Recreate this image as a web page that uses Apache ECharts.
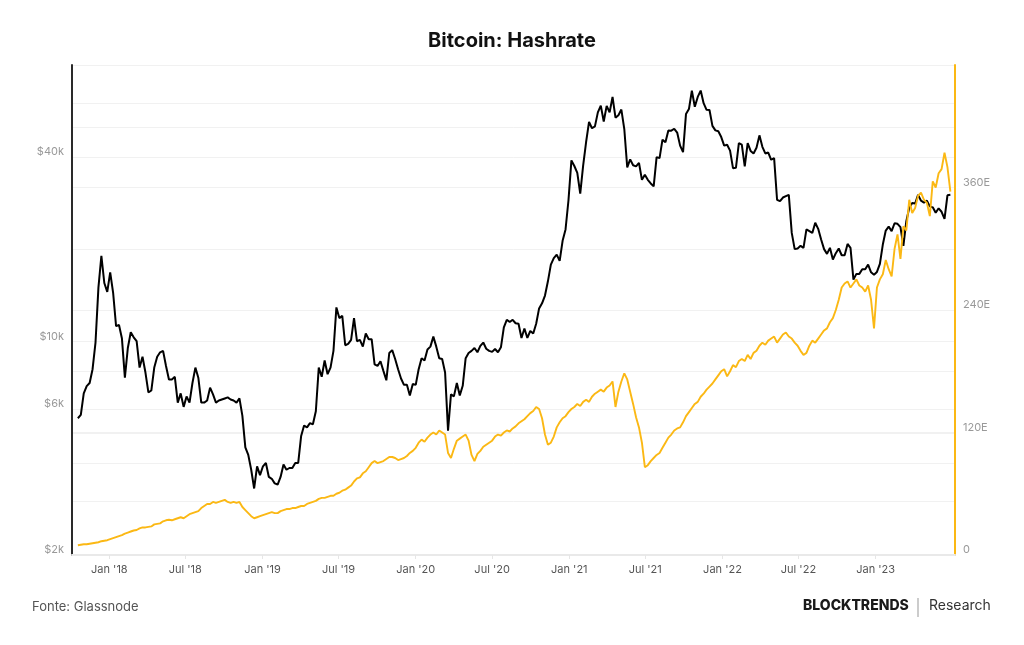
<!DOCTYPE html>
<html><head><meta charset="utf-8">
<script src="https://cdn.jsdelivr.net/npm/echarts@6/dist/echarts.min.js"></script>
<style>html,body{margin:0;padding:0;background:#fff}#c{width:1024px;height:645px}</style>
</head><body><div id="c"></div>
<script>
// weekly samples starting 2017-10-18
const startDate = [2017, 9, 18];
const stepDays = 7;

const price = [
  5600,5740,6750,7130,7300,8100,9900,15000,19000,15500,14500,
  16800,14400,11200,11300,10200,7600,9500,10700,10300,10000,8200,8900,7900,6800,6900,8200,8900,9200,9300,8300,7500,7500,7650,6300,6750,6100,6600,6300,7300,8200,7600,6300,6300,6400,7050,6700,6300,6400,6450,6500,6550,6450,6400,6300,6500,5700,4500,4250,3800,3300,3900,3650,
  3900,4000,3600,3550,3430,3400,3600,3950,3800,3850,3850,4000,4000,4900,5300,5230,5400,5350,5900,8200,7650,8650,7800,8200,9300,12900,11900,12100,9700,9800,10100,11900,10000,10100,9600,10600,10150,10150,8400,8300,8600,8000,7450,9150,9350,8750,8100,7550,7200,7200,6650,7250,
  7200,8100,8800,8650,9400,9600,10350,9600,8800,8750,7900,5100,6700,6600,7300,6650,7150,8800,9150,9300,9500,9200,9650,9900,9450,9300,9230,9430,9200,9550,11100,11750,11550,11750,11450,11400,10250,11000,10250,10800,10600,11400,12800,13300,14100,15700,17800,18700,19200,18300,21300,23200,28900,
  39000,37400,35500,30400,37600,44800,52100,49700,50400,56000,58900,52300,58800,56000,62900,53800,54800,57200,49400,37000,39300,37600,37300,38300,33700,35000,33700,32800,32100,40000,39700,45600,44700,48900,48800,49500,48100,43600,41500,55300,57400,65900,58400,62900,66000,60000,57100,57000,50600,48900,48600,46500,
  43600,43900,42000,36800,36900,44400,43900,37300,44400,41900,41100,42900,47100,43200,41100,41400,39200,39700,29000,28700,29500,29800,30100,22600,20000,20100,20500,20200,23200,22900,22600,24400,23300,21500,20000,19300,20200,18500,19400,20100,19100,19100,20800,20200,15900,16600,16600,17200,17200,17800,16800,16500,
  16850,17900,20700,23000,23700,22900,24300,24200,23600,20500,24700,27300,28300,28200,30100,28800,28400,28800,27600,27400,26300,27200,26500,25100,30000,30100
];

const hashrate = [
  9.5,10,10.5,10.5,11,11.5,12,12.5,13.5,14,14.5,
  15.5,16.5,17.5,18.5,19.5,21,22,23,24,24.5,26,27,27,27.5,28,30,30.5,31,33,34,34.5,34,35,36,37,36,38,40,41,42,43,46,48,50,50,52,51,52,53,54,52,51,52,51,52,47,44,41,38,36,37,38,
  39,40,41,42,41,41,43,44,45,45,46,46,47,48,48,50,51,52,53,55,56,56,57,58,58,60,61,63,64,66,68,72,75,76,80,82,86,90,92,90,91,92,94,96,96,95,93,94,95,97,100,102,
  105,110,113,111,115,118,120,118,122,120,118,100,95,104,112,114,116,118,112,98,92,99,102,106,108,110,112,116,118,117,120,122,121,124,126,129,131,133,136,139,141,145,143,134,118,108,110,116,125,130,134,136,140,
  143,145,148,146,150,152,150,155,158,160,162,160,164,166,170,145,160,170,178,172,160,148,135,125,110,86,88,92,95,98,100,105,110,115,118,122,124,125,130,136,140,144,148,150,155,158,162,165,168,172,176,180,
  182,175,180,186,184,190,192,190,196,192,198,200,205,208,206,210,212,214,208,212,216,218,214,212,208,205,200,196,198,205,210,208,212,216,220,222,228,232,240,250,262,266,268,262,266,270,264,262,258,264,250,222,
  262,270,275,289,280,273,300,314,290,322,318,348,335,340,352,355,348,345,332,366,360,374,378,394,380,356
];

const xTickDates = ['2018-01-01','2018-07-01','2019-01-01','2019-07-01','2020-01-01','2020-07-01','2021-01-01','2021-07-01','2022-01-01','2022-07-01','2023-01-01'];
const xTickLabels = ["Jan '18","Jul '18","Jan '19","Jul '19","Jan '20","Jul '20","Jan '21","Jul '21","Jan '22","Jul '22","Jan '23"];
const priceLabelValues = [2000, 6000, 10000, 40000];
const priceGridValues = [2000, 3000, 4000, 5000, 6000, 8000, 10000, 20000, 40000, 50000, 60000, 80000];
const priceLabels = ['$2k', '$6k', '$10k', '$40k'];
const hashTickLabels = ['0', '120E', '240E', '360E', ''];

const DAY = 86400000;
const t0 = Date.UTC(startDate[0], startDate[1], startDate[2]);
const dates = price.map((_, i) => t0 + i * stepDays * DAY);
const toTs = s => { const p = s.split('-').map(Number); return Date.UTC(p[0], p[1] - 1, p[2]); };
const xTicks = xTickDates.map(toTs);

const chart = echarts.init(document.getElementById('c'), null, { renderer: 'canvas' });
const FONT = 'Inter, "Noto Sans", sans-serif';
chart.setOption({
  animation: false,
  backgroundColor: '#ffffff',
  title: {
    text: 'Bitcoin: Hashrate', left: 'center', top: 26,
    textStyle: { fontFamily: FONT, fontWeight: 700, fontSize: 20, color: '#111' }
  },
  grid: { left: 72, right: 69, top: 65, bottom: 90, containLabel: false },
  xAxis: {
    type: 'value', scale: true,
    min: Date.UTC(2017, 9, 4), max: Date.UTC(2023, 6, 9),
    axisLine: { show: true, onZero: false, lineStyle: { color: '#e9e9e9', width: 2 } },
    axisTick: { show: true, customValues: xTicks, length: 4, lineStyle: { color: '#e6e6e6' } },
    axisLabel: {
      customValues: xTicks, color: '#555', fontSize: 11, fontFamily: FONT, margin: 9,
      formatter: v => { const i = xTicks.indexOf(v); return i >= 0 ? xTickLabels[i] : ''; }
    },
    splitLine: { show: false }
  },
  yAxis: [
    {
      type: 'log', logBase: 10, min: 2000, max: 80000, position: 'left',
      axisLine: { show: true, lineStyle: { color: '#2a2a2a', width: 2 } },
      axisTick: { show: false, customValues: priceGridValues },
      axisLabel: {
        customValues: priceLabelValues, color: '#999', fontSize: 11, fontFamily: FONT, margin: 8,
        verticalAlign: 'bottom', lineHeight: 10,
        formatter: v => { const i = priceLabelValues.indexOf(Math.round(v)); return i >= 0 ? priceLabels[i] : ''; }
      },
      splitLine: { show: true, lineStyle: { color: '#f1f1f1', width: 1 } }
    },
    {
      type: 'value', min: 0, max: 480, interval: 120, position: 'right',
      axisLine: { show: true, lineStyle: { color: '#FBB814', width: 2 } },
      axisTick: { show: false },
      axisLabel: {
        color: '#999', fontSize: 11, fontFamily: FONT, margin: 8,
        verticalAlign: 'bottom', lineHeight: 10,
        formatter: v => hashTickLabels[Math.round(v / 120)] || ''
      },
      splitLine: { show: true, lineStyle: { color: '#f1f1f1', width: 1 } }
    }
  ],
  series: [
    {
      name: 'Price', type: 'line', yAxisIndex: 0, showSymbol: false, z: 2,
      lineStyle: { color: '#000', width: 2 },
      data: price.map((v, i) => [dates[i], v])
    },
    {
      name: 'Hashrate', type: 'line', yAxisIndex: 1, showSymbol: false, z: 3,
      lineStyle: { color: '#FBB814', width: 1.9 },
      data: hashrate.map((v, i) => [dates[i], v])
    }
  ],
  graphic: [
    { type: 'text', left: 32, top: 601, style: { text: 'Fonte: Glassnode', fontFamily: FONT, fontSize: 13, fill: '#555' } },
    { type: 'text', left: 803, top: 599, style: { text: 'BLOCKTRENDS', fontFamily: FONT, fontWeight: 800, fontSize: 14, fill: '#1a1a1a' } },
    { type: 'line', shape: { x1: 918, y1: 598, x2: 918, y2: 617 }, style: { stroke: '#999', lineWidth: 1 } },
    { type: 'text', left: 929, top: 599, style: { text: 'Research', fontFamily: FONT, fontSize: 14, fill: '#333' } }
  ]
});
</script>
</body></html>
